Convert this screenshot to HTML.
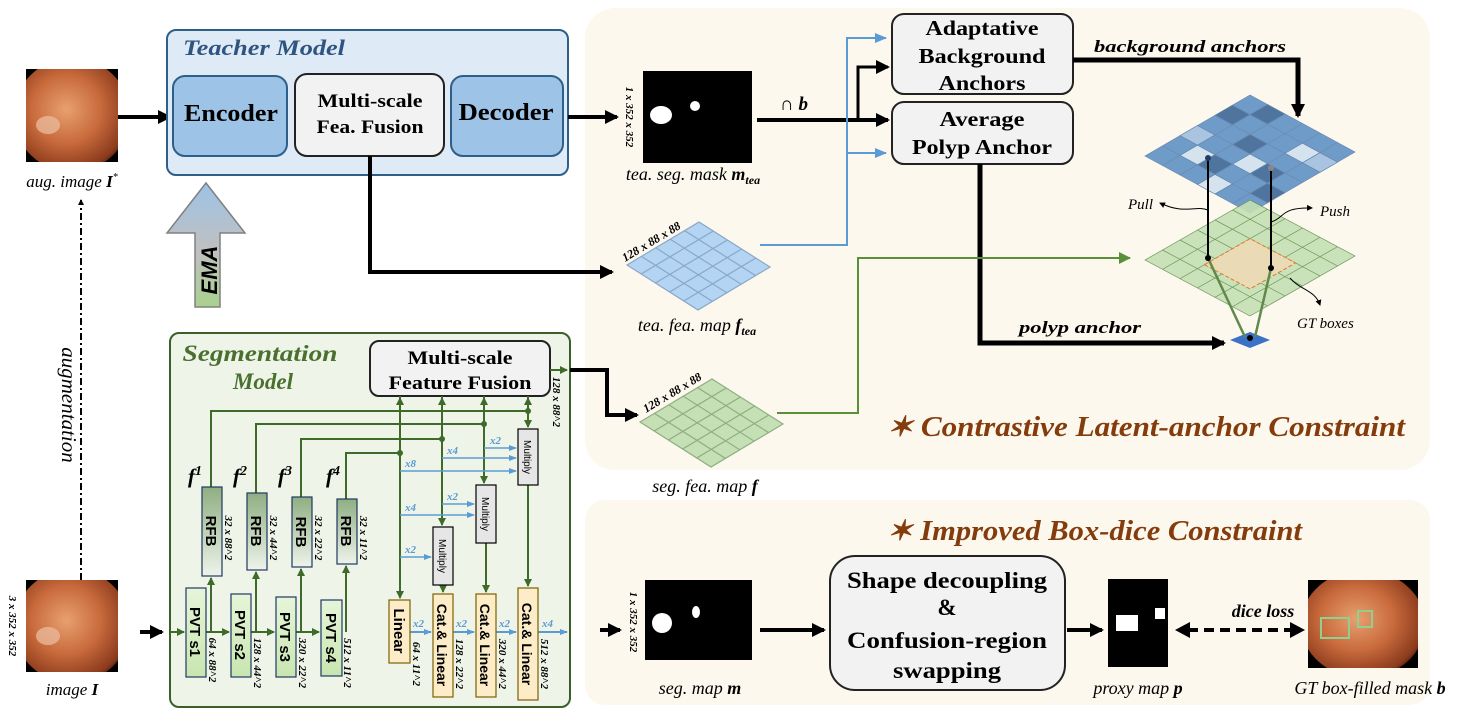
<!DOCTYPE html>
<html><head><meta charset="utf-8"><style>
html,body{margin:0;padding:0;background:#fff;}
svg{display:block;}
.b{font-family:"Liberation Serif",serif;font-weight:bold;}
.i{font-family:"Liberation Serif",serif;font-style:italic;}
.s{font-family:"Liberation Sans",sans-serif;}
</style></head><body>
<svg width="1469" height="716" viewBox="0 0 1469 716" xmlns="http://www.w3.org/2000/svg">
<defs>
<marker id="ak" markerWidth="6" markerHeight="6" refX="5" refY="3" orient="auto" markerUnits="userSpaceOnUse"><path d="M0,0 L6,3 L0,6z" fill="#000"/></marker>
<marker id="akb" markerWidth="14" markerHeight="14" refX="12" refY="7" orient="auto" markerUnits="userSpaceOnUse"><path d="M0,0 L14,7 L0,14z" fill="#000"/></marker>
<marker id="ag" markerWidth="8" markerHeight="8" refX="7" refY="4" orient="auto" markerUnits="userSpaceOnUse"><path d="M0,0 L8,4 L0,8z" fill="#3f6b2a"/></marker>
<marker id="agb" markerWidth="12" markerHeight="12" refX="11" refY="6" orient="auto" markerUnits="userSpaceOnUse"><path d="M0,0 L12,6 L0,12z" fill="#5a8f3a"/></marker>
<marker id="abl" markerWidth="8" markerHeight="8" refX="7" refY="4" orient="auto" markerUnits="userSpaceOnUse"><path d="M0,1 L8,4 L0,7z" fill="#5b9bd5"/></marker>
<marker id="ablb" markerWidth="12" markerHeight="12" refX="11" refY="6" orient="auto" markerUnits="userSpaceOnUse"><path d="M0,1 L12,6 L0,11z" fill="#5b9bd5"/></marker>
<linearGradient id="ema" x1="0" y1="0" x2="0" y2="1"><stop offset="0" stop-color="#9dc3e6"/><stop offset="0.55" stop-color="#c0c0c0"/><stop offset="1" stop-color="#a9d18e"/></linearGradient>
<linearGradient id="rfb" x1="0" y1="0" x2="0" y2="1"><stop offset="0" stop-color="#8fae82"/><stop offset="1" stop-color="#eef3ea"/></linearGradient>
<linearGradient id="pvt" x1="0" y1="0" x2="0" y2="1"><stop offset="0" stop-color="#e6f5d8"/><stop offset="1" stop-color="#c8e6b0"/></linearGradient>
<radialGradient id="endo" cx="0.45" cy="0.45" r="0.6"><stop offset="0" stop-color="#e8a070"/><stop offset="0.5" stop-color="#c86a3c"/><stop offset="0.9" stop-color="#8a3a1c"/><stop offset="1" stop-color="#3a1408"/></radialGradient>
<clipPath id="c1"><rect x="26" y="69" width="92" height="93"/></clipPath>
<clipPath id="c2"><rect x="26" y="580" width="92" height="92"/></clipPath>
<clipPath id="c3"><rect x="1308" y="580" width="110" height="88"/></clipPath>
</defs>

<!-- panels -->
<rect x="585" y="8" width="845" height="462" rx="30" fill="#fdf8ee"/>
<rect x="585" y="500" width="845" height="205" rx="20" fill="#fdf8ee"/>

<!-- aug image -->
<rect x="26" y="69" width="92" height="93" fill="#000"/>
<g clip-path="url(#c1)"><ellipse cx="72" cy="115" rx="58" ry="57" fill="url(#endo)"/>
<ellipse cx="48" cy="125" rx="12" ry="9" fill="#e8b898" opacity="0.8"/></g>
<text x="72" y="187" class="i" font-size="17" text-anchor="middle">aug. image <tspan font-weight="bold">I</tspan><tspan font-size="10" dy="-7">*</tspan></text>
<line x1="118" y1="117" x2="170" y2="117" stroke="#000" stroke-width="4" marker-end="url(#akb)"/>

<!-- Teacher model -->
<rect x="167" y="30" width="401" height="145" rx="9" fill="#deeaf6" stroke="#2e5f8a" stroke-width="2"/>
<text x="183" y="55" class="b" font-style="italic" font-size="22" fill="#2e5480" textLength="162" lengthAdjust="spacingAndGlyphs">Teacher Model</text>
<rect x="173" y="76" width="114" height="80" rx="12" fill="#9dc3e6" stroke="#2e5f8a" stroke-width="2"/>
<text x="231" y="121" class="b" font-size="24" text-anchor="middle" textLength="94" lengthAdjust="spacingAndGlyphs">Encoder</text>
<rect x="295" y="74" width="149" height="82" rx="12" fill="#f2f2f2" stroke="#222" stroke-width="2"/>
<text x="370" y="107" class="b" font-size="19" text-anchor="middle" textLength="105" lengthAdjust="spacingAndGlyphs">Multi-scale</text>
<text x="370" y="133" class="b" font-size="19" text-anchor="middle" textLength="107" lengthAdjust="spacingAndGlyphs">Fea. Fusion</text>
<rect x="451" y="76" width="112" height="80" rx="12" fill="#9dc3e6" stroke="#2e5f8a" stroke-width="2"/>
<text x="506" y="120" class="b" font-size="24" text-anchor="middle" textLength="95" lengthAdjust="spacingAndGlyphs">Decoder</text>

<!-- EMA -->
<path d="M195,307 L195,233 L167,233 L206,183 L245,233 L220,233 L220,307 Z" fill="url(#ema)" stroke="#808080" stroke-width="1.5"/>
<text transform="translate(217,270) rotate(-90)" class="s" font-weight="bold" font-style="italic" font-size="22" text-anchor="middle">EMA</text>

<!-- augmentation dashed -->
<line x1="81" y1="580" x2="81" y2="200" stroke="#000" stroke-width="2" stroke-dasharray="7,3,2,3" marker-end="url(#ak)"/>
<text transform="translate(62,405) rotate(90)" class="i" font-size="21" text-anchor="middle">augmentation</text>

<!-- image I -->
<rect x="26" y="580" width="92" height="92" fill="#000"/>
<g clip-path="url(#c2)"><ellipse cx="72" cy="626" rx="58" ry="57" fill="url(#endo)"/>
<ellipse cx="48" cy="636" rx="12" ry="9" fill="#e8b898" opacity="0.8"/></g>
<text x="72" y="695" class="i" font-size="17" text-anchor="middle">image <tspan font-weight="bold">I</tspan></text>
<text transform="translate(9,626) rotate(90)" class="b" font-style="italic" font-size="11" text-anchor="middle">3 x 352 x 352</text>
<line x1="140" y1="632" x2="162" y2="632" stroke="#000" stroke-width="4" marker-end="url(#akb)"/>

<!-- Segmentation model -->
<rect x="170" y="333" width="400" height="374" rx="9" fill="#eef4e8" stroke="#3a5f2a" stroke-width="2"/>
<text x="260" y="361" class="b" font-style="italic" font-size="23" fill="#4a7030" text-anchor="middle" textLength="155" lengthAdjust="spacingAndGlyphs">Segmentation</text>
<text x="263" y="389" class="b" font-style="italic" font-size="23" fill="#4a7030" text-anchor="middle">Model</text>
<rect x="370" y="341" width="180" height="55" rx="9" fill="#f2f2f2" stroke="#222" stroke-width="2"/>
<text x="460" y="364" class="b" font-size="19" text-anchor="middle" textLength="105" lengthAdjust="spacingAndGlyphs">Multi-scale</text>
<text x="460" y="389" class="b" font-size="19" text-anchor="middle" textLength="143" lengthAdjust="spacingAndGlyphs">Feature Fusion</text>
<line x1="550" y1="370" x2="567" y2="370" stroke="#3f6b2a" stroke-width="2" marker-end="url(#ag)"/>
<text transform="translate(553,402) rotate(90)" class="b" font-style="italic" font-size="11" text-anchor="middle">128 x 88^2</text>

<g stroke="#3f6b2a" stroke-width="2" fill="none">
<line x1="170" y1="632" x2="184" y2="632" marker-end="url(#ag)"/>
<line x1="206" y1="632" x2="229" y2="632" marker-end="url(#ag)"/>
<line x1="251" y1="632" x2="274" y2="632" marker-end="url(#ag)"/>
<line x1="296" y1="632" x2="319" y2="632" marker-end="url(#ag)"/>
<line x1="211" y1="632" x2="211" y2="578" marker-end="url(#ag)"/>
<line x1="256" y1="632" x2="256" y2="572" marker-end="url(#ag)"/>
<line x1="301" y1="632" x2="301" y2="569" marker-end="url(#ag)"/>
<line x1="346" y1="632" x2="346" y2="566" marker-end="url(#ag)"/>
<polyline points="211,487 211,411 528,411"/>
<polyline points="256,493 256,424 484,424"/>
<polyline points="301,497 301,439 442,439"/>
<polyline points="346,499 346,453 400,453"/>
<line x1="400" y1="396" x2="400" y2="598" marker-end="url(#ag)"/>
<line x1="442" y1="396" x2="442" y2="525" marker-end="url(#ag)"/>
<line x1="484" y1="396" x2="484" y2="483" marker-end="url(#ag)"/>
<line x1="528" y1="396" x2="528" y2="427" marker-end="url(#ag)"/>
<line x1="400" y1="420" x2="400" y2="398" marker-end="url(#ag)"/>
<line x1="442" y1="420" x2="442" y2="398" marker-end="url(#ag)"/>
<line x1="484" y1="420" x2="484" y2="398" marker-end="url(#ag)"/>
<line x1="528" y1="420" x2="528" y2="398" marker-end="url(#ag)"/>
<line x1="443" y1="585" x2="443" y2="592" marker-end="url(#ag)"/>
<line x1="486" y1="543" x2="486" y2="592" marker-end="url(#ag)"/>
<line x1="528" y1="485" x2="528" y2="586" marker-end="url(#ag)"/>
</g>
<g fill="#3f6b2a"><circle cx="528" cy="411" r="3"/><circle cx="484" cy="424" r="3"/><circle cx="442" cy="439" r="3"/><circle cx="400" cy="453" r="3"/></g>

<!-- blue arrows -->
<g stroke="#5b9bd5" stroke-width="1.5" fill="none">
<line x1="400" y1="557" x2="431" y2="557" marker-end="url(#abl)"/>
<line x1="400" y1="515" x2="474" y2="515" marker-end="url(#abl)"/>
<line x1="442" y1="504" x2="474" y2="504" marker-end="url(#abl)"/>
<line x1="400" y1="471" x2="516" y2="471" marker-end="url(#abl)"/>
<line x1="442" y1="458" x2="516" y2="458" marker-end="url(#abl)"/>
<line x1="484" y1="448" x2="516" y2="448" marker-end="url(#abl)"/>
<line x1="410" y1="632" x2="431" y2="632" stroke-width="2" marker-end="url(#abl)"/>
<line x1="453" y1="632" x2="474" y2="632" stroke-width="2" marker-end="url(#abl)"/>
<line x1="496" y1="632" x2="516" y2="632" stroke-width="2" marker-end="url(#abl)"/>
<line x1="538" y1="632" x2="567" y2="632" stroke-width="2" marker-end="url(#abl)"/>
</g>
<g class="b" font-style="italic" font-size="11" fill="#5b9bd5">
<text x="405" y="553">x2</text><text x="405" y="511">x4</text><text x="447" y="500">x2</text>
<text x="405" y="467">x8</text><text x="447" y="454">x4</text><text x="490" y="444">x2</text>
<text x="413" y="627">x2</text><text x="456" y="627">x2</text><text x="499" y="627">x2</text><text x="542" y="627">x4</text>
</g>

<!-- PVT / RFB -->
<g stroke="#1f3864" stroke-width="1.2">
<rect x="186" y="588" width="20" height="89" fill="url(#pvt)"/>
<rect x="231" y="594" width="20" height="83" fill="url(#pvt)"/>
<rect x="276" y="597" width="20" height="80" fill="url(#pvt)"/>
<rect x="321" y="600" width="21" height="76" fill="url(#pvt)"/>
<rect x="202" y="487" width="20" height="89" fill="url(#rfb)"/>
<rect x="247" y="493" width="20" height="77" fill="url(#rfb)"/>
<rect x="292" y="497" width="20" height="70" fill="url(#rfb)"/>
<rect x="337" y="499" width="20" height="65" fill="url(#rfb)"/>
<rect x="389" y="600" width="21" height="63" fill="#fdecc8" stroke="#7f6000"/>
<rect x="433" y="594" width="20" height="103" fill="#fdecc8" stroke="#7f6000"/>
<rect x="476" y="594" width="20" height="103" fill="#fdecc8" stroke="#7f6000"/>
<rect x="518" y="588" width="20" height="112" fill="#fdecc8" stroke="#7f6000"/>
<rect x="433" y="527" width="20" height="58" fill="#e6e6e6" stroke="#000"/>
<rect x="476" y="485" width="20" height="58" fill="#e6e6e6" stroke="#000"/>
<rect x="518" y="429" width="20" height="56" fill="#e6e6e6" stroke="#000"/>
</g>
<g class="s" font-weight="bold" text-anchor="middle">
<text transform="translate(190,632) rotate(90)" font-size="15">PVT s1</text>
<text transform="translate(235,635) rotate(90)" font-size="15">PVT s2</text>
<text transform="translate(280,637) rotate(90)" font-size="15">PVT s3</text>
<text transform="translate(326,638) rotate(90)" font-size="15">PVT s4</text>
<text transform="translate(206,531) rotate(90)" font-size="15">RFB</text>
<text transform="translate(251,531) rotate(90)" font-size="15">RFB</text>
<text transform="translate(296,532) rotate(90)" font-size="15">RFB</text>
<text transform="translate(341,531) rotate(90)" font-size="15">RFB</text>
<text transform="translate(394,631) rotate(90)" font-size="15">Linear</text>
<text transform="translate(437,645) rotate(90)" font-size="14">Cat.&amp; Linear</text>
<text transform="translate(480,645) rotate(90)" font-size="14">Cat.&amp; Linear</text>
<text transform="translate(522,644) rotate(90)" font-size="14">Cat.&amp; Linear</text>
<text transform="translate(439,556) rotate(90)" font-size="10" font-weight="normal">Multiply</text>
<text transform="translate(482,514) rotate(90)" font-size="10" font-weight="normal">Multiply</text>
<text transform="translate(524,457) rotate(90)" font-size="10" font-weight="normal">Multiply</text>
</g>
<g class="b" font-style="italic" font-size="11" text-anchor="middle">
<text transform="translate(209,660) rotate(90)">64 x 88^2</text>
<text transform="translate(254,663) rotate(90)">128 x 44^2</text>
<text transform="translate(299,663) rotate(90)">320 x 22^2</text>
<text transform="translate(344,663) rotate(90)">512 x 11^2</text>
<text transform="translate(225,538) rotate(90)">32 x 88^2</text>
<text transform="translate(270,538) rotate(90)">32 x 44^2</text>
<text transform="translate(315,538) rotate(90)">32 x 22^2</text>
<text transform="translate(360,538) rotate(90)">32 x 11^2</text>
<text transform="translate(413,664) rotate(90)">64 x 11^2</text>
<text transform="translate(456,664) rotate(90)">128 x 22^2</text>
<text transform="translate(499,664) rotate(90)">320 x 44^2</text>
<text transform="translate(541,664) rotate(90)">512 x 88^2</text>
</g>
<g class="b" font-style="italic" font-size="21">
<text x="188" y="483">f<tspan font-size="14" dy="-8">1</tspan></text>
<text x="233" y="483">f<tspan font-size="14" dy="-8">2</tspan></text>
<text x="278" y="483">f<tspan font-size="14" dy="-8">3</tspan></text>
<text x="326" y="483">f<tspan font-size="14" dy="-8">4</tspan></text>
</g>

<!-- teacher outputs -->
<line x1="568" y1="117" x2="617" y2="117" stroke="#000" stroke-width="4" marker-end="url(#akb)"/>
<polyline points="370,156 370,272 612,272" stroke="#000" stroke-width="4" fill="none" marker-end="url(#akb)"/>
<rect x="643" y="71" width="109" height="92" fill="#000"/>
<ellipse cx="661" cy="115" rx="11" ry="9" fill="#fff"/>
<ellipse cx="695" cy="106" rx="5" ry="5" fill="#fff"/>
<text transform="translate(626,117) rotate(90)" class="b" font-style="italic" font-size="11" text-anchor="middle">1 x 352 x 352</text>
<text x="693" y="180" class="i" font-size="18" text-anchor="middle">tea. seg. mask <tspan font-weight="bold">m</tspan><tspan font-weight="bold" font-size="12" dy="4">tea</tspan></text>

<!-- tea fea map -->
<g transform="matrix(14.4,-8.6,14.2,9,627,265)" fill="#b4d4f4" stroke="#8aa8c8" stroke-width="0.08">
<rect x="0" y="0" width="5" height="5"/>
<path d="M1,0V5M2,0V5M3,0V5M4,0V5M0,1H5M0,2H5M0,3H5M0,4H5" fill="none"/>
</g>
<text transform="translate(625,262) rotate(-31)" class="b" font-style="italic" font-size="12">128 x 88 x 88</text>
<text x="697" y="331" class="i" font-size="18" text-anchor="middle">tea. fea. map <tspan font-weight="bold">f</tspan><tspan font-weight="bold" font-size="12" dy="4">tea</tspan></text>

<!-- seg fea map -->
<polyline points="570,370 607,370 607,415 637,415" stroke="#000" stroke-width="4" fill="none" marker-end="url(#akb)"/>
<g transform="matrix(14.4,-8.6,14.2,9,640,422)" fill="#c5e0b4" stroke="#8fae82" stroke-width="0.08">
<rect x="0" y="0" width="5" height="5"/>
<path d="M1,0V5M2,0V5M3,0V5M4,0V5M0,1H5M0,2H5M0,3H5M0,4H5" fill="none"/>
</g>
<text transform="translate(646,413) rotate(-31)" class="b" font-style="italic" font-size="12">128 x 88 x 88</text>
<text x="705" y="492" class="i" font-size="18" text-anchor="middle">seg. fea. map <tspan font-weight="bold">f</tspan></text>

<!-- anchors -->
<line x1="757" y1="120" x2="888" y2="120" stroke="#000" stroke-width="4" marker-end="url(#akb)"/>
<polyline points="858,120 858,67 888,67" stroke="#000" stroke-width="3" fill="none" marker-end="url(#akb)"/>
<text x="794" y="110" class="b" font-size="19" text-anchor="middle">∩ <tspan font-style="italic">b</tspan></text>
<polyline points="760,245 847,245 847,38 886,38" stroke="#5b9bd5" stroke-width="2" fill="none" marker-end="url(#ablb)"/>
<polyline points="847,153 886,153" stroke="#5b9bd5" stroke-width="2" fill="none" marker-end="url(#ablb)"/>
<rect x="892" y="14" width="181" height="80" rx="12" fill="#f2f2f2" stroke="#222" stroke-width="2"/>
<text x="982" y="35" class="b" font-size="21" text-anchor="middle" textLength="113" lengthAdjust="spacingAndGlyphs">Adaptative</text>
<text x="982" y="63" class="b" font-size="21" text-anchor="middle" textLength="127" lengthAdjust="spacingAndGlyphs">Background</text>
<text x="982" y="90" class="b" font-size="21" text-anchor="middle" textLength="87" lengthAdjust="spacingAndGlyphs">Anchors</text>
<rect x="892" y="102" width="181" height="62" rx="12" fill="#f2f2f2" stroke="#222" stroke-width="2"/>
<text x="982" y="126" class="b" font-size="21" text-anchor="middle" textLength="85" lengthAdjust="spacingAndGlyphs">Average</text>
<text x="982" y="154" class="b" font-size="21" text-anchor="middle" textLength="140" lengthAdjust="spacingAndGlyphs">Polyp Anchor</text>
<polyline points="1073,60 1298,60 1298,116" stroke="#000" stroke-width="5" fill="none" marker-end="url(#akb)"/>
<text x="1190" y="52" class="b" font-style="italic" font-size="17" text-anchor="middle" textLength="192" lengthAdjust="spacingAndGlyphs">background anchors</text>
<polyline points="980,164 980,343 1224,343" stroke="#000" stroke-width="5" fill="none" marker-end="url(#akb)"/>
<text x="1080" y="333" class="b" font-style="italic" font-size="17" text-anchor="middle" textLength="122" lengthAdjust="spacingAndGlyphs">polyp anchor</text>
<polyline points="777,413 858,413 858,258 1130,258" stroke="#5a8f3a" stroke-width="2" fill="none" marker-end="url(#agb)"/>

<!-- 3D grids -->
<g transform="matrix(17.5,9.5,17.5,-10.17,1145,156)" stroke="#6a8ab0" stroke-width="0.04">
<rect x="0" y="0" width="6" height="6" fill="#6f9bc9"/>
<rect x="1" y="1" width="1" height="1" fill="#d5e3ef"/><rect x="3" y="2" width="1" height="1" fill="#d5e3ef"/>
<rect x="4" y="4" width="1" height="1" fill="#d5e3ef"/><rect x="0" y="4" width="1" height="1" fill="#4f759e"/>
<rect x="2" y="3" width="1" height="1" fill="#4f759e"/><rect x="5" y="1" width="1" height="1" fill="#4f759e"/>
<rect x="1" y="5" width="1" height="1" fill="#4f759e"/><rect x="3" y="0" width="1" height="1" fill="#d5e3ef"/>
<rect x="4" y="2" width="1" height="1" fill="#4f759e"/><rect x="2" y="1" width="1" height="1" fill="#4f759e"/>
<rect x="5" y="4" width="1" height="1" fill="#a8c4e0"/><rect x="0" y="2" width="1" height="1" fill="#a8c4e0"/>
<path d="M1,0V6M2,0V6M3,0V6M4,0V6M5,0V6M0,1H6M0,2H6M0,3H6M0,4H6M0,5H6" fill="none"/>
</g>
<g transform="matrix(17.5,9.33,17.5,-10,1145,260)" stroke="#5f8a4a" stroke-width="0.04" opacity="0.9">
<rect x="0" y="0" width="6" height="6" fill="#c5e0b4"/>
<path d="M1,0V6M2,0V6M3,0V6M4,0V6M5,0V6M0,1H6M0,2H6M0,3H6M0,4H6M0,5H6" fill="none"/>
<rect x="2" y="1.4" width="2.6" height="2.6" fill="#e8d8b0" stroke="#e07020" stroke-width="0.06" stroke-dasharray="0.2,0.1"/>
</g>
<path d="M1230,340 L1250,332 L1270,340 L1250,348 Z" fill="#3a72c8"/>
<g stroke="#000" stroke-width="2" fill="none">
<line x1="1208" y1="158" x2="1208" y2="258"/>
<line x1="1271" y1="168" x2="1271" y2="268"/>
</g>
<g stroke="#5f8a4a" stroke-width="2.5" fill="none">
<line x1="1208" y1="258" x2="1245" y2="337"/>
<line x1="1271" y1="268" x2="1255" y2="337"/>
</g>
<g fill="#000"><circle cx="1208" cy="158" r="3" fill="#1f3f6a"/><circle cx="1271" cy="168" r="3" fill="#888"/><circle cx="1208" cy="258" r="3"/><circle cx="1271" cy="268" r="3"/><circle cx="1250" cy="338" r="3"/></g>
<path d="M1208,210 C1195,205 1185,215 1160,203" stroke="#000" stroke-width="1" fill="none" marker-end="url(#ak)"/>
<path d="M1271,222 C1285,218 1280,207 1312,208" stroke="#000" stroke-width="1" fill="none" marker-end="url(#ak)"/>
<path d="M1290,278 C1300,290 1315,290 1320,305" stroke="#000" stroke-width="1" fill="none" marker-end="url(#ak)"/>
<text x="1128" y="209" class="i" font-size="15">Pull</text>
<text x="1320" y="216" class="i" font-size="15">Push</text>
<text x="1297" y="328" class="i" font-size="15">GT boxes</text>

<text x="887" y="436" class="b" font-style="italic" font-size="28" fill="#843c0c" textLength="518" lengthAdjust="spacingAndGlyphs">✶ Contrastive Latent-anchor Constraint</text>
<text x="887" y="540" class="b" font-style="italic" font-size="28" fill="#843c0c" textLength="415" lengthAdjust="spacingAndGlyphs">✶ Improved Box-dice Constraint</text>

<!-- bottom pipeline -->
<line x1="600" y1="630" x2="620" y2="630" stroke="#000" stroke-width="4" marker-end="url(#akb)"/>
<rect x="645" y="580" width="107" height="80" fill="#000"/>
<ellipse cx="662" cy="623" rx="10" ry="10" fill="#fff"/>
<ellipse cx="696" cy="612" rx="4" ry="6" fill="#fff"/>
<text transform="translate(630,622) rotate(90)" class="b" font-style="italic" font-size="11" text-anchor="middle">1 x 352 x 352</text>
<text x="700" y="694" class="i" font-size="18" text-anchor="middle">seg. map <tspan font-weight="bold">m</tspan></text>
<line x1="760" y1="630" x2="824" y2="630" stroke="#000" stroke-width="4" marker-end="url(#akb)"/>
<rect x="830" y="556" width="235" height="134" rx="25" fill="#f2f2f2" stroke="#222" stroke-width="2"/>
<text x="947" y="588" class="b" font-size="23" text-anchor="middle" textLength="200" lengthAdjust="spacingAndGlyphs">Shape decoupling</text>
<text x="947" y="615" class="b" font-size="23" text-anchor="middle">&amp;</text>
<text x="947" y="648" class="b" font-size="23" text-anchor="middle" textLength="200" lengthAdjust="spacingAndGlyphs">Confusion-region</text>
<text x="947" y="678" class="b" font-size="23" text-anchor="middle" textLength="108" lengthAdjust="spacingAndGlyphs">swapping</text>
<line x1="1067" y1="630" x2="1102" y2="630" stroke="#000" stroke-width="4" marker-end="url(#akb)"/>
<rect x="1108" y="579" width="60" height="88" fill="#000"/>
<rect x="1116" y="615" width="22" height="16" fill="#fff"/>
<rect x="1155" y="608" width="10" height="11" fill="#fff"/>
<text x="1138" y="694" class="i" font-size="18" text-anchor="middle">proxy map <tspan font-weight="bold">p</tspan></text>
<line x1="1188" y1="630" x2="1290" y2="630" stroke="#000" stroke-width="4" stroke-dasharray="10,6"/>
<path d="M1175,630 L1190,622 L1190,638 Z M1305,630 L1290,622 L1290,638 Z" fill="#000"/>
<text x="1263" y="617" class="b" font-style="italic" font-size="18" text-anchor="middle">dice loss</text>
<rect x="1308" y="580" width="110" height="88" fill="#000"/>
<g clip-path="url(#c3)"><ellipse cx="1363" cy="624" rx="62" ry="54" fill="url(#endo)"/></g>
<rect x="1321" y="618" width="28" height="20" fill="none" stroke="#8fd08f" stroke-width="2"/>
<rect x="1358" y="611" width="14" height="16" fill="none" stroke="#8fd08f" stroke-width="2"/>
<text x="1370" y="694" class="i" font-size="18" text-anchor="middle">GT box-filled mask <tspan font-weight="bold">b</tspan></text>
</svg>
</body></html>
